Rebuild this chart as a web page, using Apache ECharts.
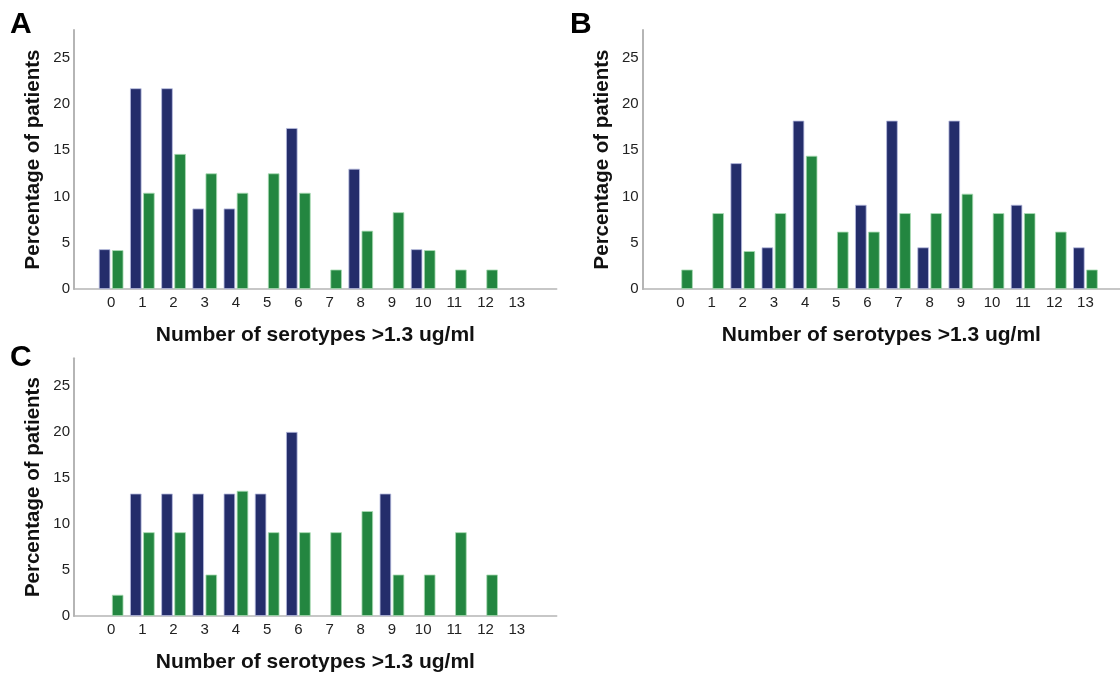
<!DOCTYPE html>
<html>
<head>
<meta charset="utf-8">
<title>Serotypes</title>
<script src="https://cdn.jsdelivr.net/npm/echarts@6/dist/echarts.min.js"></script>
<style>
  html, body {
    margin: 0;
    padding: 0;
    background: #ffffff;
  }

  #chart {
    width: 1120px;
    height: 674px;
  }
</style>
</head>
<body>
<div id="chart"></div>
<script>
// number of serotypes on the x axis, tick labels
const categories = [0, 1, 2, 3, 4, 5, 6, 7, 8, 9, 10, 11, 12, 13]
const yTicks = [0, 5, 10, 15, 20, 25]

// percentage of patients per category
const panelANavy = [4.3, 21.7, 21.7, 8.7, 8.7, 0, 17.4, 0, 13.0, 0, 4.3, 0, 0, 0]
const panelAGreen = [4.2, 10.4, 14.6, 12.5, 10.4, 12.5, 10.4, 2.1, 6.3, 8.3, 4.2, 2.1, 2.1, 0]
const panelBNavy = [0, 0, 13.6, 4.5, 18.2, 0, 9.1, 18.2, 4.5, 18.2, 0, 9.1, 0, 4.5]
const panelBGreen = [2.1, 8.2, 4.1, 8.2, 14.4, 6.2, 6.2, 8.2, 8.2, 10.3, 8.2, 8.2, 6.2, 2.1]
const panelCNavy = [0, 13.3, 13.3, 13.3, 13.3, 13.3, 20.0, 0, 0, 13.3, 0, 0, 0, 0]
const panelCGreen = [2.3, 9.1, 9.1, 4.5, 13.6, 9.1, 9.1, 9.1, 11.4, 4.5, 4.5, 9.1, 4.5, 0]

const panelLetters = ['A', 'B', 'C']
const xTitle = 'Number of serotypes >1.3 ug/ml'
const yTitle = 'Percentage of patients'

const NAVY = '#242d6b'
const GREEN = '#238640'
const AXIS_GREY = '#b5b5b5'
const FONT = '"Liberation Sans", Arial, sans-serif'

const chart = echarts.init(document.getElementById('chart'), null, { renderer: 'canvas' })

// skip the empty categories so no flat bar outline is drawn
const toPairs = (values) => {
  const pairs = []
  values.forEach((v, i) => {
    if (v > 0) pairs.push([categories[i], v])
  })
  return pairs
}

const makeXAxis = (gridIndex, min, max) => ({
  type: 'value',
  gridIndex,
  min,
  max,
  name: xTitle,
  nameLocation: 'middle',
  nameGap: 36,
  nameTextStyle: { fontFamily: FONT, fontSize: 21, fontWeight: 'bold', color: '#111111' },
  axisLine: { show: true, onZero: false, lineStyle: { color: AXIS_GREY, width: 1.5 } },
  axisTick: { show: false },
  splitLine: { show: false },
  axisLabel: {
    customValues: categories,
    fontFamily: FONT,
    fontSize: 15,
    color: '#222222',
    margin: 6,
  },
})

const makeYAxis = (gridIndex) => ({
  type: 'value',
  gridIndex,
  min: 0,
  max: 28,
  name: yTitle,
  nameLocation: 'middle',
  nameRotate: 90,
  nameGap: 30,
  nameTextStyle: { fontFamily: FONT, fontSize: 20.5, fontWeight: 'bold', color: '#111111' },
  axisLine: { show: true, onZero: false, lineStyle: { color: AXIS_GREY, width: 2 } },
  axisTick: { show: false },
  splitLine: { show: false },
  axisLabel: {
    customValues: yTicks,
    fontFamily: FONT,
    fontSize: 15,
    color: '#222222',
    margin: 4,
  },
})

const makeBars = (index, values, color, border) => ({
  type: 'bar',
  xAxisIndex: index,
  yAxisIndex: index,
  data: toPairs(values),
  barWidth: 11.5,
  barGap: '14%',
  itemStyle: { color, borderColor: border, borderWidth: 0.8 },
  animation: false,
})

const option = {
  backgroundColor: '#ffffff',
  title: panelLetters.map((letter, i) => ({
    text: letter,
    left: [10, 570, 10][i],
    top: [10, 10, 343][i],
    padding: 0,
    textStyle: { fontFamily: FONT, fontSize: 30, fontWeight: 'bold', color: '#000000' },
  })),
  grid: [
    { left: 74, top: 30, width: 482.7, height: 259 },
    { left: 642.7, top: 30, width: 477.3, height: 259 },
    { left: 74, top: 358.3, width: 482.7, height: 259 },
  ],
  xAxis: [
    makeXAxis(0, -1.19, 14.28),
    makeXAxis(1, -1.213, 14.11),
    makeXAxis(2, -1.19, 14.28),
  ],
  yAxis: [makeYAxis(0), makeYAxis(1), makeYAxis(2)],
  series: [
    makeBars(0, panelANavy, NAVY, '#b8bce0'),
    makeBars(0, panelAGreen, GREEN, '#a9dcb4'),
    makeBars(1, panelBNavy, NAVY, '#b8bce0'),
    makeBars(1, panelBGreen, GREEN, '#a9dcb4'),
    makeBars(2, panelCNavy, NAVY, '#b8bce0'),
    makeBars(2, panelCGreen, GREEN, '#a9dcb4'),
  ],
}

chart.setOption(option)
</script>
</body>
</html>
